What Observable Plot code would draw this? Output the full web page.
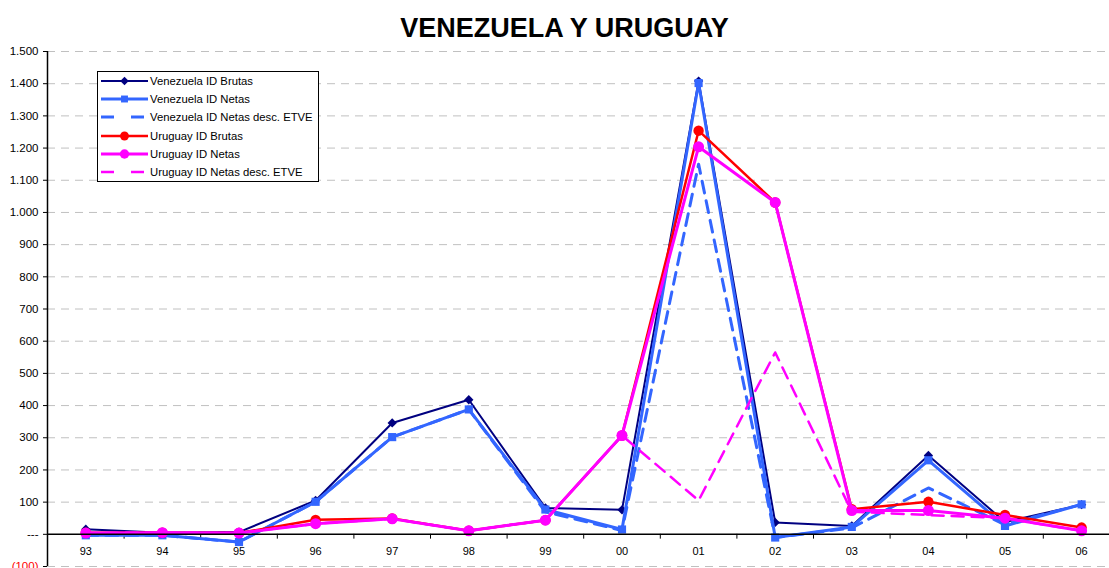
<!DOCTYPE html>
<html>
<head>
<meta charset="utf-8">
<script src="https://cdn.jsdelivr.net/npm/d3@7"></script>
<script src="https://cdn.jsdelivr.net/npm/@observablehq/plot@0.6"></script>
<style>
  html, body { margin: 0; padding: 0; background: #fff; overflow: hidden; }
  #wrap { position: relative; width: 1109px; height: 568px; font-family: "Liberation Sans", Arial, sans-serif; }
  #title { position: absolute; left: 0; width: 1129px; top: 13px; text-align: center; font-weight: bold; font-size: 27px; line-height: 30px; color: #000; }
  #legend { position: absolute; left: 97px; top: 71px; width: 222px; height: 111px; box-sizing: border-box; border: 1px solid #000; background: #fff; padding-left: 2px; }
  .row { height: 18.2px; display: flex; align-items: center; font-size: 11.3px; color: #000; white-space: nowrap; }
  .row svg { margin-right: 2px; flex: none; }
</style>
</head>
<body>
<div id="wrap">
  <div id="chart"></div>
  <div id="title">VENEZUELA Y URUGUAY</div>
  <div id="legend"></div>
</div>
<script>
// ---- data ----
const years = ["93","94","95","96","97","98","99","00","01","02","03","04","05","06"];
const venBrutas    = [16, 5, 7, 105, 346, 418, 82, 76, 1408, 37, 26, 245, 38, 92];
const venNetas     = [-3, -3, -24, 101, 302, 388, 77, 15, 1402, -10, 23, 230, 26, 93];
const venNetasETVE = [-3, -3, -24, 101, 302, 388, 70, 12, 1150, -10, 20, 144, 30, 93];
const uruBrutas    = [5, 5, 4, 45, 49, 11, 44, 307, 1254, 1031, 78, 101, 60, 21];
const uruNetas     = [4, 5, 4, 33, 48, 11, 44, 307, 1204, 1031, 74, 74, 50, 11];
const uruNetasETVE = [4, 5, 4, 33, 48, 11, 44, 307, 105, 565, 70, 60, 50, 11];
const seriesNames = ["Venezuela ID Brutas", "Venezuela ID Netas", "Venezuela ID Netas desc. ETVE",
                     "Uruguay ID Brutas", "Uruguay ID Netas", "Uruguay ID Netas desc. ETVE"];
const yTicks = d3.range(-100, 1501, 100);

// ---- styles ----
const styles = [
  {values: venBrutas,    color: "#000080", width: 2,   dash: null,   symbol: "diamond2", r: 4.2},
  {values: venNetas,     color: "#3366FF", width: 3,   dash: null,   symbol: "square",   r: 4.6},
  {values: venNetasETVE, color: "#3366FF", width: 3,   dash: "12,8", symbol: null},
  {values: uruBrutas,    color: "#FF0000", width: 2.5, dash: null,   symbol: "circle",   r: 5.2},
  {values: uruNetas,     color: "#FF00FF", width: 3,   dash: null,   symbol: "circle",   r: 5.5},
  {values: uruNetasETVE, color: "#FF00FF", width: 2.5, dash: "12,8", symbol: null}
];

const loc = d3.formatLocale({decimal: ",", thousands: ".", grouping: [3], currency: ["", ""]});
const f = loc.format(",");
const fmtY = v => v === 0 ? "---" : v < 0 ? "(" + f(-v) + ")" : f(v);

const marks = [];
// grid
marks.push(Plot.ruleY(yTicks.filter(v => v !== 0), {y: d => d, stroke: "#c0c0c0", strokeWidth: 1, strokeDasharray: "8,6"}));
// x category separator ticks
marks.push(Plot.ruleX(d3.range(0, years.length - 1).map(i => i + 0.5), {x: d => d, y1: 0, y2: -15, stroke: "#000"}));
// series
styles.forEach((s, k) => {
  const data = s.values.map((v, i) => ({x: i, y: v, series: seriesNames[k]}));
  marks.push(Plot.line(data, {x: "x", y: "y", stroke: s.color, strokeWidth: s.width, strokeDasharray: s.dash, strokeLinejoin: "round"}));
  if (s.symbol) marks.push(Plot.dot(data, {x: "x", y: "y", symbol: s.symbol, r: s.r, fill: s.color, stroke: "none"}));
});
// axes lines
marks.push(Plot.ruleY([0], {stroke: "#000", strokeWidth: 1.5}));
marks.push(Plot.ruleX([-0.5], {stroke: "#000", strokeWidth: 1.5}));
// x labels
marks.push(Plot.text(years, {x: (d, i) => i, y: 0, text: d => d, dy: 17, fontSize: 11, fill: "#000"}));

const chart = Plot.plot({
  width: 1109,
  height: 568,
  marginTop: 51,
  marginBottom: 2,
  marginLeft: 47,
  marginRight: 0,
  style: {fontFamily: "'Liberation Sans', Arial, sans-serif", fontSize: "11.5px", background: "#fff"},
  x: {type: "linear", domain: [-0.5, years.length - 0.5], range: [47, 47 + 76.6 * years.length], axis: null},
  y: {domain: [-100, 1500], ticks: yTicks, tickFormat: fmtY, tickSize: 4, tickPadding: 5, label: null},
  marks
});
document.getElementById("chart").appendChild(chart);
chart.querySelectorAll("text").forEach(t => {
  if (t.textContent.trim().startsWith("(")) t.setAttribute("fill", "#FF0000");
});

// ---- legend ----
const legend = document.getElementById("legend");
styles.forEach((s, k) => {
  const row = document.createElement("div");
  row.className = "row";
  const ns = "http://www.w3.org/2000/svg";
  const svg = document.createElementNS(ns, "svg");
  svg.setAttribute("width", 48); svg.setAttribute("height", 14);
  const line = document.createElementNS(ns, "line");
  line.setAttribute("x1", 1); line.setAttribute("x2", 48);
  line.setAttribute("y1", 7); line.setAttribute("y2", 7);
  line.setAttribute("stroke", s.color); line.setAttribute("stroke-width", s.width);
  if (s.dash) line.setAttribute("stroke-dasharray", "13,17");
  svg.appendChild(line);
  if (s.symbol) {
    const sym = {diamond2: d3.symbolDiamond2, square: d3.symbolSquare, circle: d3.symbolCircle}[s.symbol];
    const p = document.createElementNS(ns, "path");
    const rr = s.r * 0.85;
    p.setAttribute("d", s.symbol === "diamond2" ? d3.symbol(sym, rr * rr * 4 * 0.9)() : d3.symbol(sym, Math.PI * rr * rr)());
    p.setAttribute("transform", "translate(24.5,7)");
    p.setAttribute("fill", s.color);
    svg.appendChild(p);
  }
  row.appendChild(svg);
  const span = document.createElement("span");
  span.textContent = seriesNames[k];
  row.appendChild(span);
  legend.appendChild(row);
});
</script>
</body>
</html>
